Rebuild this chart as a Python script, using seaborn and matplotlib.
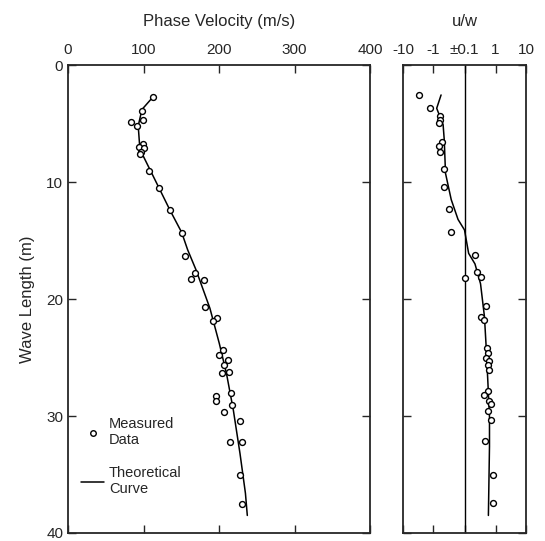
import matplotlib
matplotlib.use("Agg")
import matplotlib.pyplot as plt
import seaborn as sns
import numpy as np
import pandas as pd
from matplotlib.lines import Line2D

# ---- data ----
vel_pts_wl = [2.7, 3.9, 4.7, 4.9, 5.2, 6.75, 7.0, 7.1, 7.4, 7.6, 9.06, 10.5, 12.4, 14.4, 16.3,
              17.75, 18.3, 18.4, 20.7, 21.65, 21.9, 24.4, 24.8, 25.2, 25.6, 26.2, 26.3,
              28.0, 28.3, 28.7, 29.06, 29.7, 30.4, 32.2, 32.2, 35.0, 37.5]
vel_pts = [113, 97.6, 99, 83.5, 91, 99.8, 94, 100.7, 96.7, 95, 107.7, 120.5, 135, 150.5, 154.5,
           167.8, 163, 180, 182, 197, 192, 205.7, 200, 212, 206.6, 213, 204,
           216.3, 196.4, 196.4, 217, 207, 227.8, 230, 214.6, 227.8, 231]

vel_curve_wl = [2.7, 3.8, 5.2, 7.0, 7.8, 10.5, 12.4, 14.3, 15.8, 17.5, 20.8, 23.8, 26.4, 29.5, 33.2, 36.6, 38.5]
vel_curve = [113, 98, 93, 95, 99.8, 120.5, 135, 150.5, 158.5, 169.5, 188, 200.4, 210, 219, 227.8, 235, 237.5]

uw_pts_wl = [2.6, 3.7, 4.4, 4.7, 4.96, 6.6, 6.9, 7.4, 8.9, 10.45, 12.3, 14.3, 16.2,
             17.7, 18.1, 18.2, 20.6, 21.5, 21.8, 24.2, 24.6, 25.0, 25.3, 25.6, 26.1,
             27.9, 28.2, 28.7, 29.0, 29.6, 30.3, 32.1, 35.0, 37.4]
uw_pts = [-2.9, -1.28, -0.63, -0.6, -0.65, -0.51, -0.64, -0.62, -0.44, -0.44, -0.30, -0.26, 0.21,
          0.25, 0.34, 0.0, 0.50, 0.32, 0.43, 0.53, 0.56, 0.49, 0.63, 0.56, 0.60,
          0.56, 0.41, 0.60, 0.72, 0.55, 0.69, 0.44, 0.82, 0.80]

uw_curve_wl = [2.56, 3.7, 5.1, 6.4, 9.26, 11.5, 13.2, 14.1, 16.1, 17.0, 18.7, 21.5, 24.1, 27.2, 30.06, 32.6, 38.5]
uw_curve = [-0.56, -0.78, -0.48, -0.44, -0.40, -0.26, -0.155, 0.0, 0.13, 0.21, 0.32, 0.43, 0.49, 0.56, 0.63, 0.63, 0.58]

vel_ticks = [0, 100, 200, 300, 400]
wl_ticks = [0, 10, 20, 30, 40]
uw_ticks = [-10, -1, 0, 1, 10]
uw_ticklabels = ["-10", "-1", "\u00b10.1", "1", "10"]

# ---- style ----
sns.set_style("ticks")
plt.rcParams["font.family"] = ["Liberation Sans", "DejaVu Sans"]
plt.rcParams["xtick.direction"] = "in"
plt.rcParams["ytick.direction"] = "in"

fig = plt.figure(figsize=(5.45, 5.41), dpi=100)
ax1 = fig.add_axes([68 / 545, 1 - 533 / 541, 302 / 545, 468 / 541])
ax2 = fig.add_axes([403 / 545, 1 - 533 / 541, 123 / 545, 468 / 541])

pt_kw = dict(marker="o", s=18, facecolor="white", edgecolor="black", linewidth=1.0, zorder=3)

# left panel
sns.lineplot(x=vel_curve, y=vel_curve_wl, sort=False, estimator=None, color="black", lw=1.1, ax=ax1)
sns.scatterplot(x=vel_pts, y=vel_pts_wl, ax=ax1, **pt_kw)
ax1.set_xlim(0, 400)
ax1.set_ylim(40, 0)
ax1.set_xticks(vel_ticks)
ax1.set_yticks(wl_ticks)
ax1.xaxis.set_ticks_position("both")
ax1.yaxis.set_ticks_position("both")
ax1.tick_params(axis="x", labeltop=True, labelbottom=False, labelsize=11, length=6, width=1, pad=6)
ax1.tick_params(axis="y", labelsize=11, length=6, width=1)
ax1.xaxis.set_label_position("top")
ax1.set_xlabel("Phase Velocity (m/s)", fontsize=12, labelpad=12)
ax1.set_ylabel("Wave Length (m)", fontsize=12, labelpad=8)
for sp in ax1.spines.values():
    sp.set_visible(True)
    sp.set_linewidth(1.3)

handles = [Line2D([], [], marker="o", ls="none", markersize=4, markerfacecolor="white",
                  markeredgecolor="black", markeredgewidth=1.0),
           Line2D([], [], color="black", lw=1.1)]
ax1.legend(handles, ["Measured\nData", "Theoretical\nCurve"], loc="lower left",
           bbox_to_anchor=(0.0, 0.05), frameon=False, fontsize=10.5, handlelength=1.6,
           handletextpad=0.3, labelspacing=1.3)

# right panel
ax2.axvline(0, color="black", lw=1.0, zorder=1)
ax2.set_xscale("symlog", linthresh=0.1, linscale=0.02)
sns.lineplot(x=uw_curve, y=uw_curve_wl, sort=False, estimator=None, color="black", lw=1.1, ax=ax2)
sns.scatterplot(x=uw_pts, y=uw_pts_wl, ax=ax2, **pt_kw)
ax2.set_xlim(-10, 10)
ax2.set_ylim(40, 0)
ax2.set_xticks(uw_ticks)
ax2.set_xticklabels(uw_ticklabels)
ax2.xaxis.set_minor_locator(matplotlib.ticker.NullLocator())
ax2.set_yticks(wl_ticks)
ax2.set_yticklabels([])
ax2.xaxis.set_ticks_position("both")
ax2.yaxis.set_ticks_position("both")
ax2.tick_params(axis="x", labeltop=True, labelbottom=False, labelsize=11, length=6, width=1, pad=6)
ax2.tick_params(axis="y", length=6, width=1)
ax2.xaxis.set_label_position("top")
ax2.set_xlabel("u/w", fontsize=12, labelpad=12)
ax2.set_ylabel("")
for sp in ax2.spines.values():
    sp.set_visible(True)
    sp.set_linewidth(1.3)

fig.savefig("out.png", dpi=100)
